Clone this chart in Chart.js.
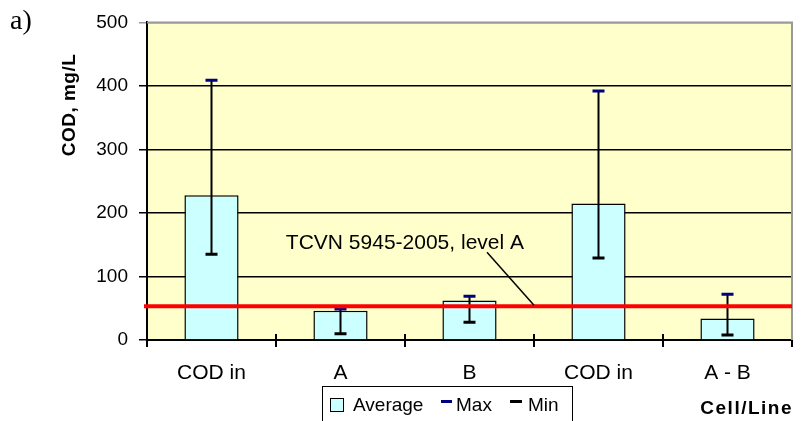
<!DOCTYPE html>
<html>
<head>
<meta charset="utf-8">
<script src="https://cdn.jsdelivr.net/npm/chart.js@4"></script>
<style>
  body { margin: 0; background: #fff; }
  #wrap { position: relative; width: 801px; height: 421px; font-family: "Liberation Sans", Arial, sans-serif; }
  #wrap canvas { position: absolute; left: 0; top: 0; }
  .txt { position: absolute; white-space: nowrap; color: #000; }
</style>
</head>
<body>
<div id="wrap">
  <canvas id="myChart" width="801" height="421"></canvas>
  <div class="txt" style="left:10px; top:4px; font-family:'Liberation Serif',serif; font-size:28px;">a)</div>
  <div class="txt" style="left:69px; top:105px; font-weight:bold; font-size:19px; letter-spacing:0.5px; transform:translate(-50%,-50%) rotate(-90deg);">COD, mg/L</div>
  <div class="txt" style="right:8px; top:397px; font-weight:bold; font-size:19px; letter-spacing:1.5px;">Cell/Line</div>
  <div style="position:absolute; left:322px; top:386px; width:251px; height:40px; border:1.5px solid #000; box-sizing:border-box;"></div>
  <div style="position:absolute; left:330px; top:398px; width:14px; height:14px; background:#CCFFFF; border:1.5px solid #000; box-sizing:border-box;"></div>
  <div class="txt" style="left:353px; top:394px; font-size:19px;">Average</div>
  <div style="position:absolute; left:441px; top:400px; width:11px; height:3px; background:#000080;"></div>
  <div class="txt" style="left:456px; top:394px; font-size:19px;">Max</div>
  <div style="position:absolute; left:510px; top:400px; width:12px; height:3px; background:#000;"></div>
  <div class="txt" style="left:528px; top:394px; font-size:19px;">Min</div>
</div>
<script>
// values
const labels = ['COD in', 'A', 'B', 'COD in', 'A - B'];
const average = [228, 46, 62, 215, 34];
const maxVals = [409, 49, 69, 392, 72];
const minVals = [135, 10, 28, 129, 8];
const limitA = 53;   // TCVN 5945-2005, level A
const limitText = 'TCVN 5945-2005, level A';

// background, error bars, limit line and its label
const extras = {
    id: 'extras',
    beforeDraw(chart) {
        const a = chart.chartArea, ctx = chart.ctx;
        ctx.save();
        ctx.fillStyle = '#FFFFCC';
        ctx.fillRect(a.left, a.top, a.right - a.left, a.bottom - a.top);
        ctx.restore();
    },
    afterDatasetDraw(chart, args) {
        if (args.index !== 0) return;
        const ctx = chart.ctx, y = chart.scales.y;
        const bars = chart.getDatasetMeta(0).data;
        ctx.save();
        ctx.strokeStyle = '#000';
        ctx.lineWidth = 2;
        bars.forEach((b, i) => {
            ctx.beginPath();
            ctx.moveTo(b.x, y.getPixelForValue(maxVals[i]));
            ctx.lineTo(b.x, y.getPixelForValue(minVals[i]));
            ctx.stroke();
        });
        ctx.restore();
    },
    afterDatasetsDraw(chart) {
        const a = chart.chartArea, ctx = chart.ctx;
        const x = chart.scales.x, y = chart.scales.y;
        const step = (a.right - a.left) / labels.length;
        ctx.save();
        // inner half of the crossing category ticks
        ctx.strokeStyle = '#000';
        ctx.lineWidth = 2;
        for (let i = 1; i < labels.length; i++) {
            const px = a.left + step * i;
            ctx.beginPath();
            ctx.moveTo(px, a.bottom - 6);
            ctx.lineTo(px, a.bottom);
            ctx.stroke();
        }
        // gray frame on top and right
        ctx.strokeStyle = '#999';
        ctx.lineWidth = 2;
        ctx.beginPath();
        ctx.moveTo(a.left, a.top);
        ctx.lineTo(a.right, a.top);
        ctx.lineTo(a.right, a.bottom);
        ctx.stroke();
        // limit line
        const ly = y.getPixelForValue(limitA);
        ctx.strokeStyle = '#FF0000';
        ctx.lineWidth = 4;
        ctx.beginPath();
        ctx.moveTo(a.left - 3, ly);
        ctx.lineTo(a.right, ly);
        ctx.stroke();
        // label with leader line
        const ax = x.getPixelForValue(2) + step / 2;
        ctx.strokeStyle = '#000';
        ctx.lineWidth = 1.5;
        ctx.beginPath();
        ctx.moveTo(ax - 47, ly - 54);
        ctx.lineTo(ax, ly - 1);
        ctx.stroke();
        ctx.fillStyle = '#000';
        ctx.font = '21px "Liberation Sans"';
        ctx.textAlign = 'right';
        ctx.textBaseline = 'alphabetic';
        ctx.fillText(limitText, ax - 10, ly - 57);
        ctx.restore();
    }
};

const data = {
    labels: labels,
    datasets: [{
        label: 'Average',
        data: average,
        backgroundColor: '#CCFFFF',
        borderColor: '#000',
        borderWidth: 1.5,
        categoryPercentage: 0.42,
        barPercentage: 1,
        order: 3
    }, {
        type: 'line',
        label: 'Max',
        data: maxVals,
        showLine: false,
        pointStyle: 'line',
        pointRadius: 6,
        pointBorderWidth: 3,
        pointBorderColor: '#000080',
        borderColor: '#000080',
        order: 1
    }, {
        type: 'line',
        label: 'Min',
        data: minVals,
        showLine: false,
        pointStyle: 'line',
        pointRadius: 6,
        pointBorderWidth: 3,
        pointBorderColor: '#000',
        borderColor: '#000',
        order: 2
    }]
};

const config = {
    type: 'bar',
    data,
    options: {
        responsive: false,
        animation: false,
        layout: { padding: { top: 20, right: 2, left: 0, bottom: 0 } },
        plugins: { legend: { display: false }, tooltip: { enabled: false } },
        scales: {
            x: {
                afterFit(s) { s.height = 81; },
                grid: { drawOnChartArea: false, offset: true, color: '#000', lineWidth: 2, tickLength: 7 },
                border: { color: '#000', width: 2 },
                ticks: { color: '#000', padding: 14, font: { family: 'Liberation Sans', size: 21 }, maxRotation: 0 }
            },
            y: {
                min: 0,
                max: 500,
                afterFit(s) { s.width = 147; },
                grid: { color: c => c.tick && c.tick.value === 500 ? '#999' : '#000', lineWidth: 1.5, tickLength: 8 },
                border: { color: '#000', width: 2 },
                ticks: { stepSize: 100, color: '#000', padding: 11, font: { family: 'Liberation Sans', size: 19 } }
            }
        }
    },
    plugins: [extras]
};

var myChart = new Chart(
    document.getElementById('myChart'),
    config
);
</script>
</body>
</html>
